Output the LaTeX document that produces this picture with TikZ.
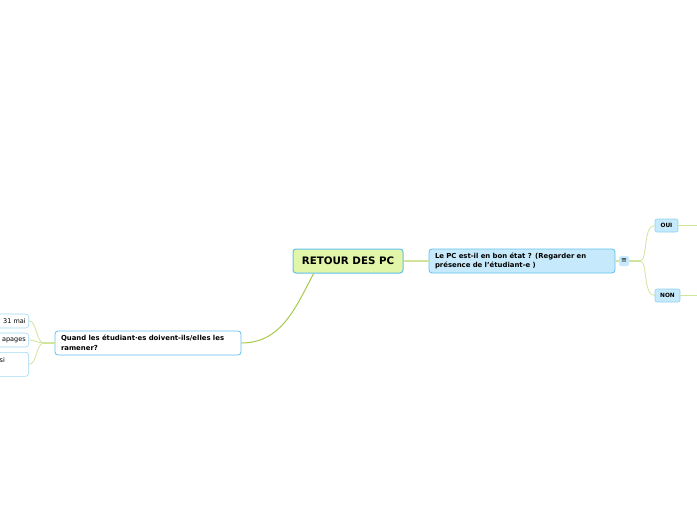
\documentclass[tikz,border=0pt]{standalone}
\usepackage{fontspec}
\setmainfont{DejaVu Sans}
\definecolor{bordblue}{RGB}{96,192,236}
\definecolor{rootfill}{RGB}{226,246,170}
\definecolor{subfill}{RGB}{198,234,251}
\definecolor{linegreen}{RGB}{166,201,76}
\definecolor{palegreen}{RGB}{208,228,156}
\tikzset{
    RA1/.style ={rectangle,rounded corners=3pt,minimum width=110pt,minimum height=24pt,draw=bordblue,line width=1pt,fill=rootfill,font=\fontsize{10.3}{12}\selectfont\bfseries},
    RA2/.style ={rectangle,rounded corners=3pt,minimum width=186pt,minimum height=24pt,text width=174pt,align=left,draw=bordblue,line width=0.8pt,fill=white,font=\fontsize{6.9}{9.5}\selectfont\bfseries},
    RA3/.style ={RA2,fill=subfill},
    RA4/.style ={rectangle,rounded corners=3pt,minimum height=14pt,inner sep=3pt,draw=bordblue!60,line width=0.6pt,fill=white,font=\fontsize{6.5}{9}\selectfont},
    SM/.style ={rectangle,rounded corners=2pt,minimum width=23pt,minimum height=13pt,inner sep=1pt,draw=bordblue!70,line width=0.6pt,fill=subfill,font=\fontsize{5.8}{7}\selectfont\bfseries},
    IC/.style ={rectangle,rounded corners=1.5pt,minimum width=10pt,minimum height=10pt,inner sep=0pt,fill=subfill,font=\fontsize{7}{8}\selectfont},
    LN1/.style ={draw=linegreen,line width=1pt},
    LN2/.style ={draw=palegreen,line width=0.8pt}}
\begin{document}
\begin{tikzpicture}[x=1pt,y=-1pt]
        \useasboundingbox (0,0) rectangle (697,520);
        \node[RA1] (1) at(348,261){RETOUR DES PC};
        \node[RA3] (2) at(522,261){Le PC est-il en bon état ? (Regarder en\\présence de l'étudiant-e )};
        \node[RA2] (3) at(148,343){Quand les étudiant·es doivent-ils/elles les\\ramener?};
        \node[RA4,anchor=east,text width=60pt,align=right] (4) at(29,321){31 mai};
        \node[RA4,anchor=east,text width=60pt,align=right] (5) at(29,340){apages};
        \node[RA4,anchor=north east,text width=26pt,align=left,minimum height=24pt] (6) at(29,352){si\\~};
        \node[IC] (7) at(624,261){≡};
        \node[SM] (8) at(666.5,225.5){OUI};
        \node[SM,minimum width=25pt] (9) at(667.5,295.5){NON};
        \coordinate (10) at(640,261);
        \coordinate (11) at(44,343);
        \coordinate (12) at(700,225.5);
        \coordinate (13) at(700,295.5);
        \draw[LN2,line width=1.4pt] (1) --(2);
        \draw[LN2,line width=1.4pt] (2) --(7);
        \draw[LN2,line width=1.4pt] (7) --(10);
        \draw[LN2] (10) .. controls +(8,0) and +(-12,0) .. (8.west);
        \draw[LN2] (10) .. controls +(8,0) and +(-12,0) .. (9.west);
        \draw[LN2] (8) --(12);
        \draw[LN2] (9) --(13);
        \draw[LN1] (1.200) .. controls +(-18,34) and +(40,0) .. (3.east);
        \draw[LN2,line width=1.4pt] (3) --(11);
        \draw[LN2] (11) .. controls +(-8,0) and +(8,0) .. (4.east);
        \draw[LN2] (11) .. controls +(-8,0) and +(8,0) .. (5.east);
        \draw[LN2] (11) .. controls +(-8,0) and +(8,0) .. (6.east);
    \end{tikzpicture}
\end{document}
